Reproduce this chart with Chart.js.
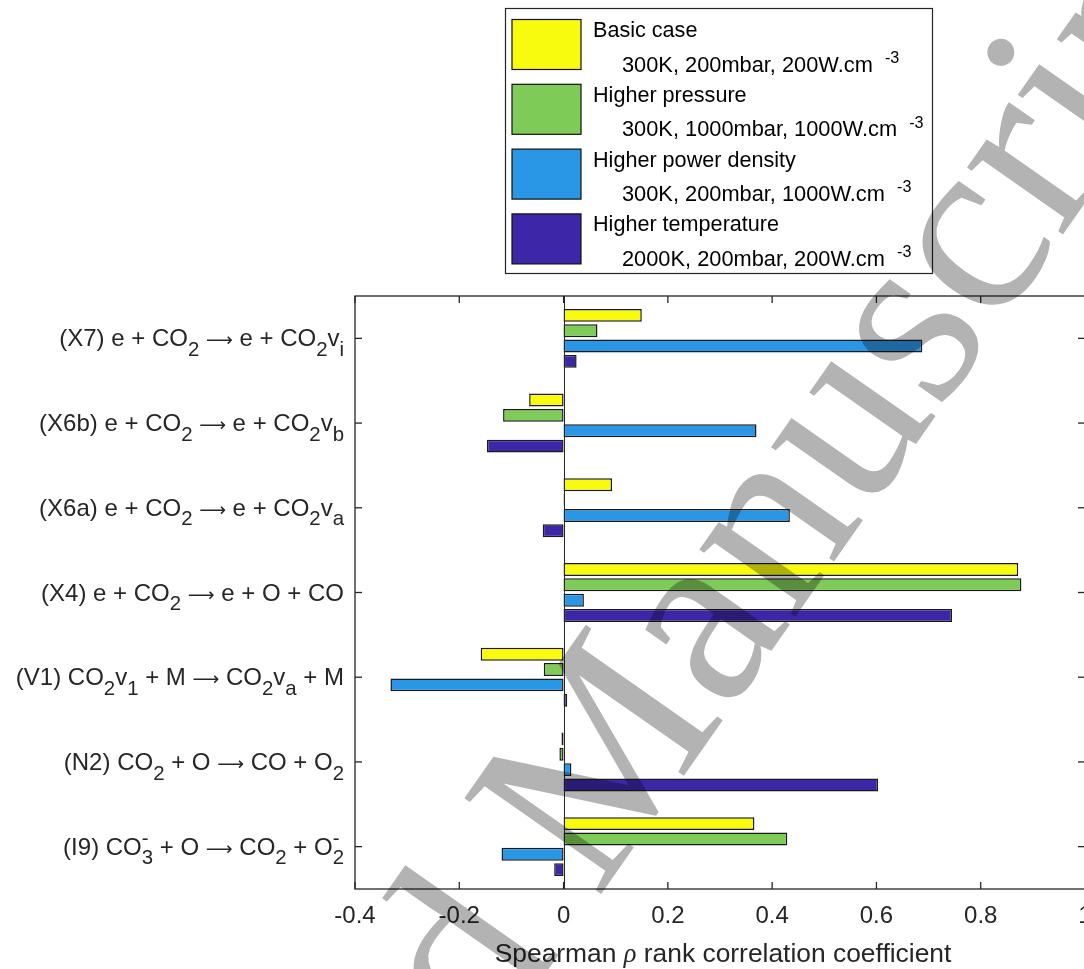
<!DOCTYPE html>
<html lang="en">
<head>
<meta charset="UTF-8">
<title>Spearman rank correlation</title>
<style>
  html, body { margin: 0; padding: 0; background: #fff; overflow: hidden; }
  #wrap { position: absolute; left: 0; top: 0; width: 1110px; height: 969px; }
</style>
</head>
<body>
<div id="wrap"><canvas id="myChart"></canvas></div>
<script src="https://cdn.jsdelivr.net/npm/chart.js"></script>
<script>
// reactions, top to bottom (_{..} subscript, ^{..} superscript)
const categories = [
  "(X7) e + CO_{2} \u2192 e + CO_{2}v_{i}",
  "(X6b) e + CO_{2} \u2192 e + CO_{2}v_{b}",
  "(X6a) e + CO_{2} \u2192 e + CO_{2}v_{a}",
  "(X4) e + CO_{2} \u2192 e + O + CO",
  "(V1) CO_{2}v_{1} + M \u2192 CO_{2}v_{a} + M",
  "(N2) CO_{2} + O \u2192 CO + O_{2}",
  "(I9) CO_{3}^{-} + O \u2192 CO_{2} + O_{2}^{-}"
];

const basicCase   = [0.150, -0.066, 0.093, 0.872, -0.159, -0.004, 0.366];
const highPress   = [0.065, -0.116, 0.002, 0.878, -0.038, -0.008, 0.429];
const highPower   = [0.688,  0.370, 0.434, 0.039, -0.332,  0.015, -0.119];
const highTemp    = [0.025, -0.147, -0.040, 0.745, 0.007,  0.603, -0.018];

const seriesNames = ["Basic case", "Higher pressure", "Higher power density", "Higher temperature"];
const seriesNotes = [
  "300K, 200mbar, 200W.cm  ^{-3}",
  "300K, 1000mbar, 1000W.cm  ^{-3}",
  "300K, 200mbar, 1000W.cm  ^{-3}",
  "2000K, 200mbar, 200W.cm  ^{-3}"
];
const seriesColors = ["#f9fb0e", "#7ecb57", "#2a96e6", "#3d26a8"];

const xTicks = [-0.4, -0.2, 0, 0.2, 0.4, 0.6, 0.8, 1];
const xTitle = "Spearman \u03c1 rank correlation coefficient";
const watermark = "Accepted Manuscript";

const FONT = '"Liberation Sans", Arial, Helvetica, sans-serif';
const axisColor = "#262626";
// glyphs that MATLAB takes from its symbol font
const symbolFonts = {
  "\u2192": { ch: "\u27f6", style: "", font: '"DejaVu Sans", sans-serif', scale: 0.78 },
  "\u03c1": { ch: "\u03c1", style: "italic ", font: '"Liberation Serif", serif', scale: 1.0 }
};

// tiny TeX-ish parser for sub/superscripts
function parseRich(str) {
  let out = [], buf = "", i = 0;
  const flush = () => { if (buf) { out.push({ t: buf, k: "n" }); buf = ""; } };
  while (i < str.length) {
    let ch = str[i];
    if ((ch === "_" || ch === "^") && str[i + 1] === "{") {
      flush();
      let end = str.indexOf("}", i);
      out.push({ t: str.slice(i + 2, end), k: ch === "_" ? "sub" : "sup" });
      i = end + 1;
    } else if (symbolFonts[ch]) {
      flush();
      out.push({ t: symbolFonts[ch].ch, k: "sym", sym: symbolFonts[ch] });
      i++;
    } else { buf += ch; i++; }
  }
  flush();
  return out;
}

function drawRich(ctx, str, x, y, size, align, color, opts) {
  opts = opts || {};
  let segs = parseRich(str);
  let small = size * (opts.scriptScale || 0.85);
  let subDy = size * 0.4, supDy = -size * (opts.supRaise || 0.42);
  let items = [], cx = 0;
  const fontOf = (s) => {
    if (s.k === "sym") return s.sym.style + size * s.sym.scale + "px " + s.sym.font;
    return (s.k === "n" ? size : small) + "px " + FONT;
  };
  const dyOf = (s) => s.k === "sub" ? subDy : s.k === "sup" ? supDy : 0;
  for (let j = 0; j < segs.length; j++) {
    let s = segs[j];
    ctx.font = fontOf(s);
    let w = ctx.measureText(s.t).width;
    items.push({ t: s.t, font: fontOf(s), x: cx, dy: dyOf(s) });
    let nx = segs[j + 1];
    if ((s.k === "sub" || s.k === "sup") && nx && (nx.k === "sub" || nx.k === "sup") && nx.k !== s.k) {
      ctx.font = fontOf(nx);
      let w2 = ctx.measureText(nx.t).width;
      items.push({ t: nx.t, font: fontOf(nx), x: cx, dy: dyOf(nx) });
      cx += Math.max(w, w2);
      j++;
    } else {
      cx += w;
    }
  }
  let x0 = align === "right" ? x - cx : align === "center" ? x - cx / 2 : x;
  ctx.fillStyle = color;
  ctx.textAlign = "left";
  ctx.textBaseline = "alphabetic";
  items.forEach(it => {
    ctx.font = it.font;
    ctx.fillText(it.t, x0 + it.x, y + it.dy);
  });
}

function line(ctx, x1, y1, x2, y2) {
  ctx.beginPath(); ctx.moveTo(x1, y1); ctx.lineTo(x2, y2); ctx.stroke();
}

const paperPlugin = {
  id: "paper",
  afterDraw(chart) {
    const ctx = chart.ctx, a = chart.chartArea;
    const xs = chart.scales.x, ys = chart.scales.y;
    ctx.save();
    ctx.strokeStyle = axisColor;
    ctx.lineWidth = 1;

    // zero baseline
    let x0 = Math.round(xs.getPixelForValue(0)) + 0.5;
    line(ctx, x0, a.top, x0, a.bottom);

    // axes box
    ctx.lineWidth = 1.3;
    ctx.strokeRect(a.left, a.top, a.right - a.left, a.bottom - a.top);

    // x ticks (inward) + labels
    xTicks.forEach(v => {
      let x = xs.getPixelForValue(v);
      line(ctx, x, a.bottom, x, a.bottom - 7);
      line(ctx, x, a.top, x, a.top + 7);
      drawRich(ctx, String(v), x, 923, 24, "center", axisColor);
    });
    drawRich(ctx, xTitle, (a.left + a.right) / 2 + 3, 962, 26.4, "center", axisColor);

    // y ticks + reaction labels
    categories.forEach((c, i) => {
      let y = ys.getPixelForValue(i);
      line(ctx, a.left, y, a.left + 7, y);
      line(ctx, a.right, y, a.right - 7, y);
      drawRich(ctx, c, 344, y + 8, 24, "right", axisColor);
    });

    // legend
    ctx.lineWidth = 1.2;
    ctx.strokeStyle = axisColor;
    ctx.fillStyle = "#fff";
    ctx.fillRect(505, 8, 428, 266);
    ctx.strokeRect(505.5, 8.5, 427, 265);
    chart.data.datasets.forEach((ds, i) => {
      let top = 19.5 + i * 64.8;
      ctx.fillStyle = ds.backgroundColor;
      ctx.fillRect(512, top, 69, 50);
      ctx.strokeStyle = "#111";
      ctx.lineWidth = 1.2;
      ctx.strokeRect(512, top, 69, 50);
      drawRich(ctx, ds.label, 593, top + 17.5, 21.6, "left", "#000");
      drawRich(ctx, seriesNotes[i], 622, top + 52, 21.8, "left", "#000", { scriptScale: 0.74, supRaise: 0.4 });
    });

    // watermark
    ctx.globalCompositeOperation = "multiply";
    ctx.fillStyle = "#b3b3b3";
    ctx.font = '255px "Liberation Serif", "Times New Roman", serif';
    ctx.textAlign = "left";
    ctx.textBaseline = "alphabetic";
    ctx.translate(597, 900);
    ctx.rotate(-55 * Math.PI / 180);
    let pre = ctx.measureText("Accepted ").width;
    ctx.fillText(watermark, -pre, 0);
    ctx.restore();
  }
};

const seriesData = [basicCase, highPress, highPower, highTemp];
const datasets = seriesData.map((d, i) => ({
  label: seriesNames[i],
  data: d,
  backgroundColor: seriesColors[i],
  borderColor: "#1a1a1a",
  borderWidth: 1.5,
  borderSkipped: false,
  categoryPercentage: 0.725,
  barPercentage: 0.84
}));

new Chart(document.getElementById("myChart"), {
  type: "bar",
  data: { labels: categories, datasets: datasets },
  options: {
    indexAxis: "y",
    responsive: true,
    maintainAspectRatio: false,
    animation: false,
    layout: { padding: { left: 355, right: 1110 - 1085, top: 296, bottom: 969 - 889 } },
    plugins: { legend: { display: false }, tooltip: { enabled: false } },
    scales: {
      x: { display: false, min: -0.4, max: 1 },
      y: { display: false }
    }
  },
  plugins: [paperPlugin]
});
</script>
</body>
</html>
